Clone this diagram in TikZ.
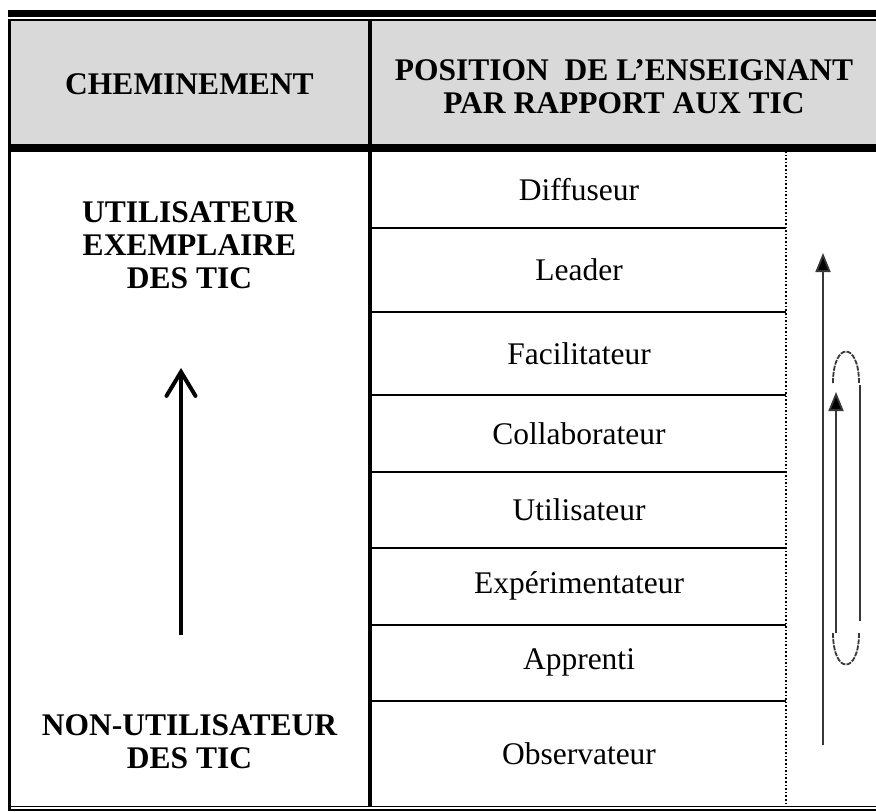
\documentclass[tikz,border=0pt]{standalone}
\usepackage{fontspec}
\setmainfont{Liberation Serif}
\usepackage{tikz}
\usetikzlibrary{arrows.meta, positioning}
\definecolor{headgray}{RGB}{217, 217, 217}
\definecolor{loopgray}{RGB}{55, 55, 55}
\newcommand{\cellfont}{\fontsize{15.75}{16.5}\selectfont}

\begin{document}
\begin{tikzpicture}[x=0.5pt, y=-0.5pt,
  rolecell/.style={font=\cellfont, inner sep=0pt},
  headcell/.style={font=\cellfont\bfseries, align=center, inner sep=0pt},
  rowline/.style={line width=1pt},
  loopline/.style={draw=loopgray, line width=0.9pt}]
  \useasboundingbox (0,0) rectangle (876,811);

  % header band and rules
  \fill[headgray] (9,20) rectangle (876,144);
  \draw[line width=3.5pt] (8,13.5) -- (876,13.5);
  \draw[line width=0.75pt] (8,20) -- (876,20);
  \draw[line width=3.7pt] (8,148) -- (876,148);

  % frame and column lines
  \draw[line width=1.25pt] (9.5,20) -- (9.5,810);
  \draw[line width=2pt] (370,20) -- (370,807);
  \draw[line width=0.8pt, densely dotted] (786,151) -- (786,806);
  \draw[line width=0.75pt] (8,806.5) -- (876,806.5);
  \draw[line width=0.75pt] (8,810) -- (876,810);

  % row rules of the right column
  \draw[rowline] (371,227.7) -- (786,227.7);
  \draw[rowline] (371,311.7) -- (786,311.7);
  \draw[rowline] (371,395) -- (786,395);
  \draw[rowline] (371,471.7) -- (786,471.7);
  \draw[rowline] (371,547.7) -- (786,547.7);
  \draw[rowline] (371,624.7) -- (786,624.7);
  \draw[rowline] (371,700.7) -- (786,700.7);

  % headers
  \node[headcell] (chemin) at (189.5, 84) {CHEMINEMENT};
  \node[headcell] (position) at (624, 86.5) {POSITION\ \ DE L’ENSEIGNANT\\PAR RAPPORT AUX TIC};

  % left column
  \node[headcell] (exemplaire) at (189.5, 245) {UTILISATEUR\\EXEMPLAIRE\\DES TIC};
  \node[headcell] (nonutil) at (189.5, 741.5) {NON-UTILISATEUR\\DES TIC};
  \coordinate (pathbot) at (181, 635);
  \coordinate (pathtop) at (181, 368);
  \draw[line width=2pt, -{Straight Barb[length=12pt, width=14.5pt, line cap=round]}] (pathbot) -- (pathtop);

  % teacher positions
  \node[rolecell] (diffuseur) at (579, 189.7) {Diffuseur};
  \node[rolecell] (leader) at (579, 269.7) {Leader};
  \node[rolecell] (facilitateur) at (579, 353.3) {Facilitateur};
  \node[rolecell] (collaborateur) at (579, 433.3) {Collaborateur};
  \node[rolecell] (utilisateur) at (579, 509.7) {Utilisateur};
  \node[rolecell] (experimentateur) at (579, 586.2) {Expérimentateur};
  \node[rolecell] (apprenti) at (579, 662.7) {Apprenti};
  \node[rolecell] (observateur) at (579, 754) {Observateur};

  % progression arrows on the right
  \coordinate (longbot) at (823, 745);
  \coordinate (longtop) at (823, 253);
  \draw[loopline, -{Triangle[length=9.5pt, width=7.5pt, fill=black]}] (longbot) -- (longtop);
  \coordinate (loopbot) at (836, 633);
  \coordinate (looptop) at (836, 392);
  \draw[loopline, -{Triangle[length=9.5pt, width=7.5pt, fill=black]}] (loopbot) -- (looptop);
  \coordinate (backtop) at (860, 385);
  \coordinate (backbot) at (860, 621);
  \draw[loopline] (backtop) -- (backbot);
  \draw[loopline, dash pattern=on 2.5pt off 0.6pt] (833,383) .. controls (833,341) and (859,341) .. (859,383);
  \draw[loopline, dash pattern=on 2.5pt off 0.6pt] (833,633) .. controls (833,675) and (859,675) .. (859,633);
\end{tikzpicture}
\end{document}
